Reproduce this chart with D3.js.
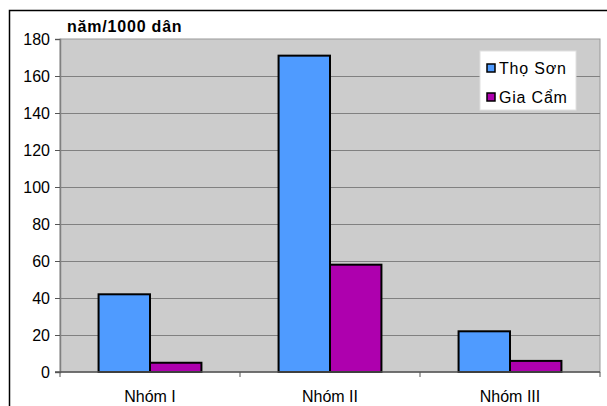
<!DOCTYPE html>
<html>
<head>
<meta charset="utf-8">
<script src="https://cdn.jsdelivr.net/npm/d3@7"></script>
<style>
  body { margin: 0; background: #fff; }
  svg { display: block; font-family: "Liberation Sans", Arial, sans-serif; }
</style>
</head>
<body>
<div id="chart"></div>
<script>
// data
const categories = ['Nhóm I', 'Nhóm II', 'Nhóm III'];
const seriesNames = ['Thọ Sơn', 'Gia Cẩm'];
const thoSon = [42, 171, 22];
const giaCam = [5, 58, 6];
const yTicks = [0, 20, 40, 60, 80, 100, 120, 140, 160, 180];
const colors = ['#4f9bff', '#ae00ae'];

const width = 607, height = 406;
const plot = {left: 60, right: 600, top: 39, bottom: 372};

const svg = d3.select('#chart').append('svg')
    .attr('width', width)
    .attr('height', height);

// outer chart frame (only top and left edges visible)
svg.append('path')
    .attr('d', `M9.5,${height} V10.5 H${width}`)
    .attr('fill', 'none')
    .attr('stroke', '#000')
    .attr('stroke-width', 1.5);

const x = d3.scaleBand()
    .domain(categories)
    .range([plot.left, plot.right])
    .paddingInner(0)
    .paddingOuter(0);

const xInner = d3.scaleBand()
    .domain(seriesNames)
    .range([0, x.bandwidth()])
    .paddingInner(0)
    .paddingOuter(0.75);

const y = d3.scaleLinear()
    .domain([0, 180])
    .range([plot.bottom, plot.top]);

// plot area background
svg.append('rect')
    .attr('x', plot.left)
    .attr('y', plot.top)
    .attr('width', plot.right - plot.left)
    .attr('height', plot.bottom - plot.top)
    .attr('fill', '#cccccc')
    .attr('stroke', '#999')
    .attr('stroke-width', 1);

// gridlines
svg.append('g')
    .selectAll('line')
    .data(yTicks.filter(d => d > 0 && d < 180))
    .enter().append('line')
    .attr('x1', plot.left)
    .attr('x2', plot.right)
    .attr('y1', d => Math.round(y(d)) + 0.5)
    .attr('y2', d => Math.round(y(d)) + 0.5)
    .attr('stroke', '#808080')
    .attr('stroke-width', 1);

// y axis
const yAxis = svg.append('g')
    .attr('transform', `translate(${plot.left},0)`)
    .call(d3.axisLeft(y).tickValues(yTicks).tickSize(5).tickPadding(5));
yAxis.select('.domain').attr('stroke', '#808080').attr('stroke-width', 1.5);
yAxis.selectAll('.tick line').attr('stroke', '#555');
yAxis.selectAll('.tick text')
    .style('font-size', '16px')
    .style('fill', '#000');

// bars
const rows = categories.map((c, i) => ({cat: c, values: [thoSon[i], giaCam[i]]}));

const groups = svg.append('g')
    .selectAll('g')
    .data(rows)
    .enter().append('g')
    .attr('transform', d => `translate(${x(d.cat)},0)`);

groups.selectAll('rect')
    .data(d => d.values.map((v, j) => ({series: seriesNames[j], value: v, j})))
    .enter().append('rect')
    .attr('x', d => xInner(d.series))
    .attr('y', d => y(d.value))
    .attr('width', xInner.bandwidth())
    .attr('height', d => y(0) - y(d.value))
    .attr('fill', d => colors[d.j])
    .attr('stroke', '#000')
    .attr('stroke-width', 2);

// x axis
const xAxis = svg.append('g')
    .attr('transform', `translate(0,${plot.bottom})`);
xAxis.append('line')
    .attr('x1', plot.left - 5)
    .attr('x2', plot.right)
    .attr('stroke', '#555')
    .attr('stroke-width', 1.5);
xAxis.selectAll('.xtick')
    .data([plot.left, ...categories.slice(1).map(c => x(c)), plot.right])
    .enter().append('line')
    .attr('x1', d => d)
    .attr('x2', d => d)
    .attr('y1', 0)
    .attr('y2', 5)
    .attr('stroke', '#555');
xAxis.selectAll('text')
    .data(categories)
    .enter().append('text')
    .attr('x', d => x(d) + x.bandwidth() / 2)
    .attr('y', 30)
    .attr('text-anchor', 'middle')
    .style('font-size', '16px')
    .text(d => d);

// unit label
svg.append('text')
    .attr('x', 67)
    .attr('y', 32)
    .style('font-size', '16px')
    .style('font-weight', 'bold')
    .style('letter-spacing', '0.8px')
    .text('năm/1000 dân');

// legend
const legend = svg.append('g')
    .attr('transform', 'translate(480,51)');
legend.append('rect')
    .attr('width', 96)
    .attr('height', 59)
    .attr('fill', '#fff')
    .attr('stroke', '#e0e0e0');
const item = legend.selectAll('.item')
    .data(seriesNames)
    .enter().append('g')
    .attr('transform', (d, i) => `translate(7,${17 + i * 29})`);
item.append('rect')
    .attr('x', 0)
    .attr('y', -4)
    .attr('width', 8)
    .attr('height', 8)
    .attr('fill', (d, i) => colors[i])
    .attr('stroke', '#000')
    .attr('stroke-width', 1.5);
item.append('text')
    .attr('x', 12)
    .attr('y', 0)
    .attr('dy', '0.35em')
    .style('font-size', '16px')
    .style('letter-spacing', '0.8px')
    .text(d => d);
</script>
</body>
</html>
